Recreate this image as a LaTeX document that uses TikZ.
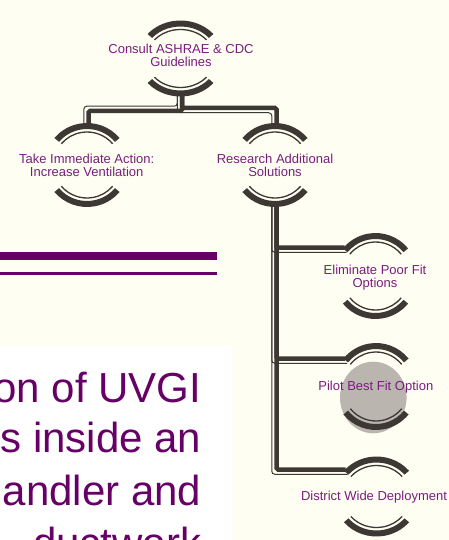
\documentclass[tikz,border=0pt]{standalone}
\usepackage{fontspec}
\setmainfont{Liberation Sans}
\usetikzlibrary{calc}
\definecolor{paper}{RGB}{254,254,242}
\definecolor{ink}{RGB}{62,56,52}
\definecolor{plum}{RGB}{102,0,102}
\definecolor{orchid}{RGB}{122,30,126}
\definecolor{halo}{RGB}{186,181,175}

% Two bracket arcs (thick block arc + thin inner arc) above and below a centre
\newcommand\bracketarcs[3]{%
  \pgfmathsetmacro\rxo{#2}\pgfmathsetmacro\ryo{#3}%
  \pgfmathsetmacro\rxi{#2-6}\pgfmathsetmacro\ryi{#3-6}%
  \pgfmathsetmacro\rxt{#2-9}\pgfmathsetmacro\ryt{#3-9}%
  \foreach \a/\b in {40/140,220/320}{%
    \fill[ink] ($(#1)+(\a:\rxo pt and \ryo pt)$)
      arc[start angle=\a,end angle=\b,x radius=\rxo pt,y radius=\ryo pt]
      -- ($(#1)+(\b:\rxi pt and \ryi pt)$)
      arc[start angle=\b,end angle=\a,x radius=\rxi pt,y radius=\ryi pt] -- cycle;
    \draw[ink,line width=1.3pt] ($(#1)+(\a:\rxt pt and \ryt pt)$)
      arc[start angle=\a,end angle=\b,x radius=\rxt pt,y radius=\ryt pt];
  }}

\begin{document}
\begin{tikzpicture}[x=1pt,y=1pt,
  boxtext/.style={text=orchid,font=\fontsize{13}{12.8}\selectfont,align=center,inner sep=0pt},
  thk/.style={draw=ink,line width=4.5pt,rounded corners=1.5pt},
  thn/.style={draw=ink,line width=1pt,rounded corners=3pt},
  slide/.style={text=plum,font=\fontsize{42}{51}\selectfont,inner sep=0pt,anchor=base east}]
\useasboundingbox (0,0) rectangle (449,-540);
\fill[paper] (0,0) rectangle (449,-540);

% title rules and body text panel
\fill[plum] (0,-252) rectangle (217,-260);
\fill[plum] (0,-272) rectangle (217,-275);
\fill[white] (0,-346) rectangle (232,-540);
\node[slide] (l1) at (201.5,-402.7) {on of UVGI};
\node[slide] (l2) at (201.5,-452.7) {s inside an};
\node[slide] (l3) at (201.5,-505.7) {andler and};
\node[slide] (l4) at (201.5,-557) {ductwork};

% centres of the hierarchy nodes
\coordinate (c1) at (180.5,-58.5);
\coordinate (c2) at (87,-165);
\coordinate (c3) at (275,-165);
\coordinate (c4) at (375.5,-276);
\coordinate (c5) at (376,-386.5);
\coordinate (c6) at (376.5,-496.5);

% highlight behind the pilot node
\fill[halo] (373.3,-397.5) ellipse[x radius=33.3pt,y radius=35.8pt];

% connectors: thick line with a thin companion line
\draw[thn] ($(c1)+(-3.25,-36)$) |- ($(c2)+(-3.25,58.75)$) -- ($(c2)+(-3.25,39)$);
\draw[thk] ($(c1)+(1.5,-36)$) |- ($(c2)+(1.5,54)$) -- ($(c2)+(1.5,39)$);
\draw[thn] ($(c1)+(-3.25,-36)$) |- ($(c3)+(-3.25,52.25)$) -- ($(c3)+(-3.25,39)$);
\draw[thk] ($(c1)+(1.5,-36)$) |- ($(c3)+(1.5,57)$) -- ($(c3)+(1.5,39)$);

\draw[thn] ($(c3)+(-3.25,-39)$) |- ($(c6)+(-29,22.25)$);
\draw[thk] ($(c3)+(1.5,-39)$) |- ($(c6)+(-31,27)$);
\draw[thn] ($(c3)+(-3.25,-39)$) |- ($(c5)+(-29,23.25)$);
\draw[thk] ($(c3)+(1.5,-39)$) |- ($(c5)+(-31,28)$);
\draw[thn] ($(c3)+(-3.25,-39)$) |- ($(c4)+(-29,23.75)$);
\draw[thk] ($(c3)+(1.5,-39)$) |- ($(c4)+(-31,28.5)$);

% node brackets
\bracketarcs{c1}{43}{38}
\bracketarcs{c2}{42.5}{42}
\bracketarcs{c3}{42.5}{42}
\bracketarcs{c4}{42.5}{43}
\bracketarcs{c5}{42.5}{43.5}
\bracketarcs{c6}{42.5}{40}

% node texts
\node[boxtext] (t1) at (181,-55) {Consult ASHRAE \& CDC\\Guidelines};
\node[boxtext] (t2) at (86.7,-165.5) {Take Immediate Action:\\Increase Ventilation};
\node[boxtext] (t3) at (275,-165.5) {Research Additional\\Solutions};
\node[boxtext] (t4) at (375,-277.5) {Eliminate Poor Fit\\Options};
\node[boxtext] (t5) at (375.8,-387) {Pilot Best Fit Option};
\node[boxtext] (t6) at (374,-496.8) {District Wide Deployment};
\end{tikzpicture}
\end{document}
